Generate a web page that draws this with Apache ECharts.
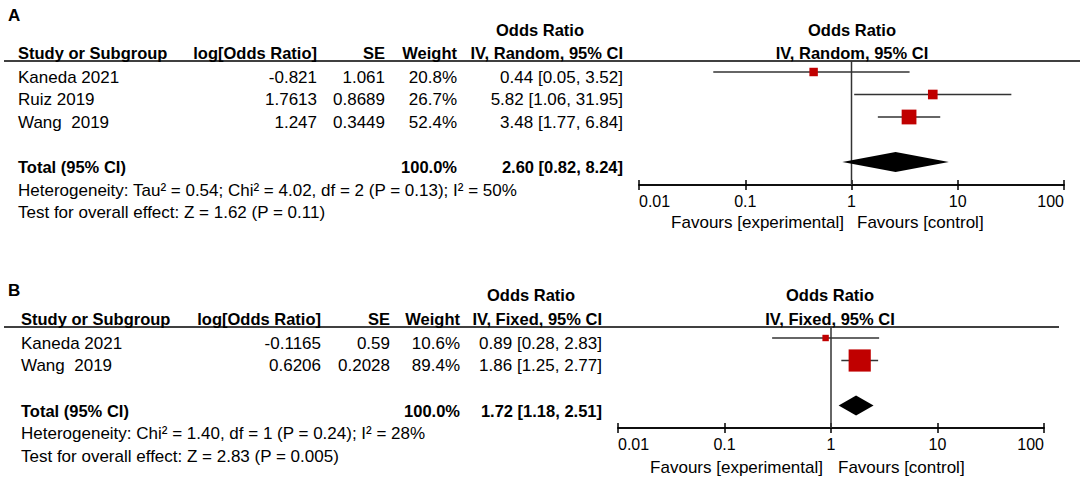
<!DOCTYPE html>
<html>
<head>
<meta charset="utf-8">
<script src="https://cdn.jsdelivr.net/npm/echarts@6/dist/echarts.min.js"></script>
<style>
  html, body { margin: 0; padding: 0; background: #fff; }
  #chart { width: 1084px; height: 479px; }
</style>
</head>
<body>
<div id="chart"></div>
<script>
// ---- data, panel A (random effects) ----
const studiesA = ['Kaneda 2021', 'Ruiz 2019', 'Wang  2019'];
const logOrA = [-0.821, 1.7613, 1.247];
const seA = [1.061, 0.8689, 0.3449];
const weightA = [20.8, 26.7, 52.4];
const orA = [0.44, 5.82, 3.48];
const lowA = [0.05, 1.06, 1.77];
const highA = [3.52, 31.95, 6.84];
const totalA = [2.60, 0.82, 8.24];
const hetA = 'Heterogeneity: Tau² = 0.54; Chi² = 4.02, df = 2 (P = 0.13); I² = 50%';
const testA = 'Test for overall effect: Z = 1.62 (P = 0.11)';

// ---- data, panel B (fixed effect) ----
const studiesB = ['Kaneda 2021', 'Wang  2019'];
const logOrB = [-0.1165, 0.6206];
const seB = [0.59, 0.2028];
const weightB = [10.6, 89.4];
const orB = [0.89, 1.86];
const lowB = [0.28, 1.25];
const highB = [2.83, 2.77];
const totalB = [1.72, 1.18, 2.51];
const hetB = 'Heterogeneity: Chi² = 1.40, df = 1 (P = 0.24); I² = 28%';
const testB = 'Test for overall effect: Z = 2.83 (P = 0.005)';

const tickValues = [0.01, 0.1, 1, 10, 100];
const tickLabels = ['0.01', '0.1', '1', '10', '100'];

const FONT = "'Liberation Sans', Arial, sans-serif";
const FS = 17;       // regular text
const FS_BOLD = 16.5; // bold headers
const ROW_H = 22.5;

// layout of each panel (pixels)
const panels = [
  {
    letter: 'A', method: 'IV, Random, 95% CI',
    studies: studiesA, logOr: logOrA, se: seA, weight: weightA,
    or: orA, low: lowA, high: highA, total: totalA, het: hetA, test: testA,
    letterY: 15, titleY: 30, headY: 53, ruleY: 61, ruleX2: 1080,
    rowY: 77, hetY: 190, testY: 212,
    colStudy: 18, colLog: 317, colSe: 385, colW: 457, colCi: 623, colOrHead: 540,
    plotCenter: 852, favY: 222, favL: 844, favR: 857,
    grid: { left: 639, top: 61, width: 425, height: 124 },
    markY: 72
  },
  {
    letter: 'B', method: 'IV, Fixed, 95% CI',
    studies: studiesB, logOr: logOrB, se: seB, weight: weightB,
    or: orB, low: lowB, high: highB, total: totalB, het: hetB, test: testB,
    letterY: 290, titleY: 295, headY: 319, ruleY: 327, ruleX2: 1059,
    rowY: 343, hetY: 433, testY: 456,
    colStudy: 21, colLog: 321, colSe: 390, colW: 460, colCi: 602, colOrHead: 531,
    plotCenter: 830, favY: 467, favL: 823, favR: 838,
    grid: { left: 618, top: 327, width: 426, height: 101 },
    markY: 338
  }
];

function txt(text, x, y, align, bold, size) {
  return {
    type: 'text', x: x, y: y,
    style: {
      text: text.replace(/  /g, ' \u00a0'),
      fontFamily: FONT, fontSize: size || (bold ? FS_BOLD : FS),
      fontWeight: bold ? 'bold' : 'normal',
      fill: '#000', align: align, verticalAlign: 'middle'
    }
  };
}

function ciText(v) {
  return v[0].toFixed(2) + ' [' + v[1].toFixed(2) + ', ' + v[2].toFixed(2) + ']';
}

const graphic = [];
panels.forEach(function (p) {
  graphic.push(txt(p.letter, 8, p.letterY, 'left', true, 17));
  graphic.push(txt('Odds Ratio', p.colOrHead, p.titleY, 'center', true));
  graphic.push(txt('Odds Ratio', p.plotCenter, p.titleY, 'center', true));
  graphic.push(txt('Study or Subgroup', p.colStudy, p.headY, 'left', true));
  graphic.push(txt('log[Odds Ratio]', p.colLog, p.headY, 'right', true));
  graphic.push(txt('SE', p.colSe, p.headY, 'right', true));
  graphic.push(txt('Weight', p.colW, p.headY, 'right', true));
  graphic.push(txt(p.method, p.colCi, p.headY, 'right', true));
  graphic.push(txt(p.method, p.plotCenter, p.headY, 'center', true));
  graphic.push({
    type: 'line',
    shape: { x1: 4, y1: p.ruleY, x2: p.ruleX2, y2: p.ruleY },
    style: { stroke: '#000', lineWidth: 1.5 }
  });
  p.studies.forEach(function (name, i) {
    const y = p.rowY + ROW_H * i;
    graphic.push(txt(name, p.colStudy, y, 'left'));
    graphic.push(txt(String(p.logOr[i]), p.colLog, y, 'right'));
    graphic.push(txt(String(p.se[i]), p.colSe, y, 'right'));
    graphic.push(txt(p.weight[i].toFixed(1) + '%', p.colW, y, 'right'));
    graphic.push(txt(ciText([p.or[i], p.low[i], p.high[i]]), p.colCi, y, 'right'));
  });
  const ty = p.rowY + ROW_H * (p.studies.length + 1);
  graphic.push(txt('Total (95% CI)', p.colStudy, ty, 'left', true));
  graphic.push(txt('100.0%', p.colW, ty, 'right', true));
  graphic.push(txt(ciText(p.total), p.colCi, ty, 'right', true));
  graphic.push(txt(p.het, p.colStudy, p.hetY, 'left'));
  graphic.push(txt(p.test, p.colStudy, p.testY, 'left'));
  graphic.push(txt('Favours [experimental]', p.favL, p.favY, 'right'));
  graphic.push(txt('Favours [control]', p.favR, p.favY, 'left'));
});

function tickLabel(v) {
  const k = tickValues.findIndex(function (t) {
    return Math.abs(Math.log10(t) - Math.log10(v)) < 1e-6;
  });
  return k >= 0 ? tickLabels[k] : '';
}

const grids = [], xAxes = [], yAxes = [], series = [];
panels.forEach(function (p, gi) {
  grids.push(Object.assign({ containLabel: false }, p.grid));
  const base = {
    type: 'log', logBase: 10, min: tickValues[0], max: tickValues[tickValues.length - 1],
    gridIndex: gi, position: 'bottom',
    axisLine: { show: true, onZero: false, lineStyle: { color: '#000', width: 1.5 } },
    splitLine: { show: false }
  };
  xAxes.push(Object.assign({}, base, {
    axisTick: { show: true, length: 5, lineStyle: { color: '#000', width: 1.5 } },
    axisLabel: {
      show: true, margin: 8, color: '#000', fontFamily: FONT, fontSize: 16,
      alignMinLabel: 'left', alignMaxLabel: 'right',
      formatter: tickLabel
    }
  }));
  xAxes.push(Object.assign({}, base, {
    axisTick: { show: true, inside: true, length: 5, lineStyle: { color: '#000', width: 1.5 } },
    axisLabel: { show: false }
  }));
  // rows: study i at index i, total two rows below the last study
  const top = p.grid.top, bottom = p.grid.top + p.grid.height;
  yAxes.push({
    type: 'value', gridIndex: gi, inverse: true, show: false,
    min: (top - p.markY) / ROW_H, max: (bottom - p.markY) / ROW_H
  });
  const xi = gi * 2;

  // line of no effect
  series.push({
    type: 'custom', xAxisIndex: xi, yAxisIndex: gi, silent: true,
    data: [[1]],
    renderItem: function (params, api) {
      const cs = params.coordSys;
      const x = api.coord([api.value(0), 0])[0];
      return {
        type: 'line',
        shape: { x1: x, y1: cs.y, x2: x, y2: cs.y + cs.height },
        style: { stroke: '#333', lineWidth: 1.5 }
      };
    }
  });

  // study estimates with CI
  series.push({
    type: 'custom', xAxisIndex: xi, yAxisIndex: gi, silent: true,
    data: p.studies.map(function (n, i) {
      return [i, p.or[i], p.low[i], p.high[i], p.weight[i]];
    }),
    renderItem: function (params, api) {
      const row = api.value(0);
      const pl = api.coord([api.value(2), row]);
      const pr = api.coord([api.value(3), row]);
      const pc = api.coord([api.value(1), row]);
      const s = 4.3 + 0.2 * api.value(4);
      return {
        type: 'group',
        children: [
          { type: 'line', shape: { x1: pl[0], y1: pl[1], x2: pr[0], y2: pr[1] },
            style: { stroke: '#333', lineWidth: 1.4 } },
          { type: 'rect', shape: { x: pc[0] - s / 2, y: pc[1] - s / 2, width: s, height: s },
            style: { fill: '#C00000' } }
        ]
      };
    }
  });

  // pooled diamond
  series.push({
    type: 'custom', xAxisIndex: xi, yAxisIndex: gi, silent: true,
    data: [[p.studies.length + 1, p.total[0], p.total[1], p.total[2]]],
    renderItem: function (params, api) {
      const row = api.value(0);
      const c = api.coord([api.value(1), row]);
      const l = api.coord([api.value(2), row]);
      const r = api.coord([api.value(3), row]);
      const h = 10;
      return {
        type: 'polygon',
        shape: { points: [[l[0], l[1]], [c[0], c[1] - h], [r[0], r[1]], [c[0], c[1] + h]] },
        style: { fill: '#000' }
      };
    }
  });
});

const chart = echarts.init(document.getElementById('chart'), null, { renderer: 'svg' });
chart.setOption({
  animation: false,
  backgroundColor: '#fff',
  grid: grids,
  xAxis: xAxes,
  yAxis: yAxes,
  series: series,
  graphic: graphic
});
</script>
</body>
</html>
